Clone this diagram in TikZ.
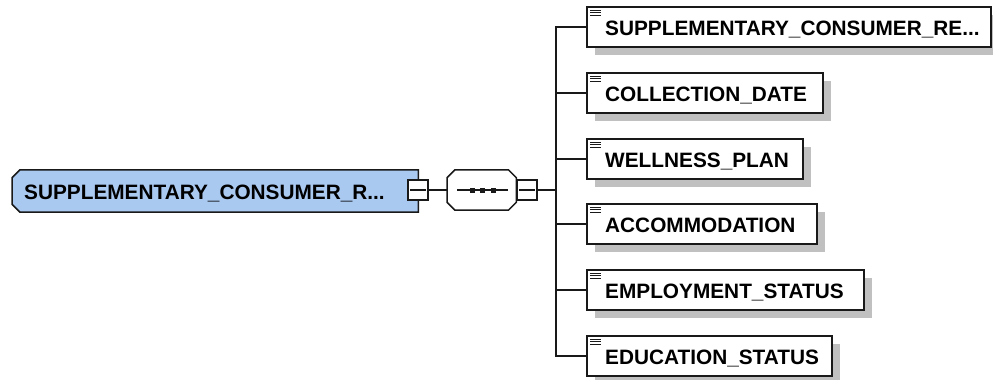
\documentclass[tikz,border=0pt]{standalone}
\usepackage{fontspec}
\setmainfont{Liberation Sans}
\usetikzlibrary{shadows}
\definecolor{rootblue}{RGB}{170,201,241}
\definecolor{shadowgray}{RGB}{192,192,192}
\definecolor{edgecol}{RGB}{25,25,25}
\newcommand\chamleftpath[1]{([xshift=8pt]#1.north west) -- (#1.north east) -- (#1.south east) -- ([xshift=8pt]#1.south west) -- ([yshift=8pt]#1.south west) -- ([yshift=-8pt]#1.north west) -- cycle}
\newcommand\chamallpath[1]{([xshift=8pt]#1.north west) -- ([xshift=-8pt]#1.north east) -- ([yshift=-8pt]#1.north east) -- ([yshift=8pt]#1.south east) -- ([xshift=-8pt]#1.south east) -- ([xshift=8pt]#1.south west) -- ([yshift=8pt]#1.south west) -- ([yshift=-8pt]#1.north west) -- cycle}
\begin{document}
\begin{tikzpicture}[x=1pt,y=-1pt,
  shad/.style={drop shadow={shadow xshift=8pt,shadow yshift=-8pt,fill=shadowgray,opacity=1}},
  elem/.style={draw=edgecol,line width=1.5pt,fill=white,shad,rectangle,minimum height=40pt,anchor=west,inner sep=0pt},
  lbl/.style={anchor=base west,inner sep=0pt,font=\fontsize{20.8}{24}\selectfont\bfseries,text=black},
  conn/.style={draw=edgecol,line width=1.5pt},
  outline/.style={draw=edgecol,line width=1.5pt},
  shadfill/.style={fill=shadowgray,shift={(8,8)}},
  minusbox/.style={draw=edgecol,line width=1.5pt,fill=white,minimum width=20pt,minimum height=20pt,inner sep=0pt},
  minusbar/.style={draw=edgecol,line width=1.2pt},
  iconline/.style={draw=edgecol,line width=1pt},
  frame/.style={rectangle,inner sep=0pt,anchor=west},
]
\useasboundingbox (0,0) rectangle (993,380);

% root element
\node[frame,minimum width=406pt,minimum height=42pt] (root) at (12,191) {};
\fill[shadfill] \chamleftpath{root};
\filldraw[outline,fill=rootblue] \chamleftpath{root};
\node[lbl] (roottext) at (24,199.5) {SUPPLEMENTARY\_CONSUMER\_R...};
\node[minusbox] (m1) at (418,190) {};
\draw[minusbar] ([xshift=3pt]m1.west) -- ([xshift=-3pt]m1.east);

% sequence compositor
\node[frame,minimum width=69pt,minimum height=40pt] (seq) at (447,190) {};
\fill[shadfill] \chamallpath{seq};
\filldraw[outline,fill=white] \chamallpath{seq};
\draw[conn] (m1.east) -- (seq.west);
\draw[conn] ([xshift=10pt]seq.west) -- ([xshift=-8pt]seq.east);
\foreach \dx in {472,482.5,493}{\fill[edgecol] (\dx,190) +(-2.5,-2.5) rectangle +(2.5,2.5);}
\node[minusbox] (m2) at (527,190) {};
\draw[minusbar] ([xshift=3pt]m2.west) -- ([xshift=-3pt]m2.east);
\coordinate (fork) at (556,190);
\draw[conn] (m2.east) -- (fork);

% children
\node[elem,minimum width=404pt] (c1) at (586,27) {};
\node[elem,minimum width=236pt] (c2) at (586,93) {};
\node[elem,minimum width=216pt] (c3) at (586,159) {};
\node[elem,minimum width=230pt] (c4) at (586,224) {};
\node[elem,minimum width=277pt] (c5) at (586,290) {};
\node[elem,minimum width=245pt] (c6) at (586,356) {};

\node[lbl] (t1) at (605,35) {SUPPLEMENTARY\_CONSUMER\_RE...};
\node[lbl] (t2) at (605,101) {COLLECTION\_DATE};
\node[lbl] (t3) at (605,167) {WELLNESS\_PLAN};
\node[lbl] (t4) at (605,232) {ACCOMMODATION};
\node[lbl] (t5) at (605,298) {EMPLOYMENT\_STATUS};
\node[lbl] (t6) at (605,364) {EDUCATION\_STATUS};

\foreach \c in {c1,c2,c3,c4,c5,c6}{
  \draw[conn] (fork) |- (\c.west);
  \foreach \dy in {4,6.7,9.4}{
    \draw[iconline] ([shift={(4,\dy)}]\c.north west) -- ++(11,0);
  }
}
\end{tikzpicture}
\end{document}
